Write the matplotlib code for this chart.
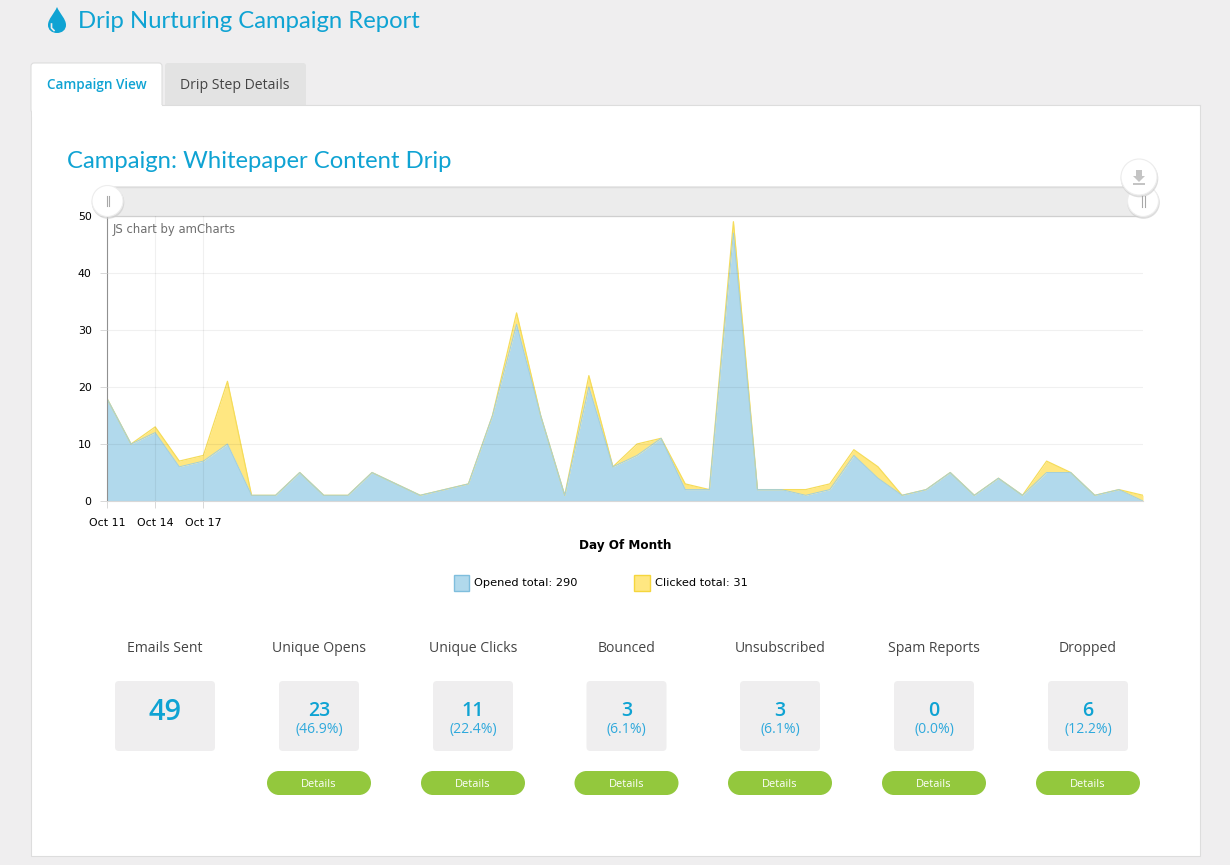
import numpy as np
import matplotlib
matplotlib.use("Agg")
import matplotlib.pyplot as plt
from matplotlib.patches import FancyBboxPatch, Rectangle, Circle, PathPatch
from matplotlib.path import Path

opened = [18, 10, 12, 6, 7, 10, 1, 1, 5, 1, 1, 5, 3, 1, 2, 3, 15, 31, 15, 1, 20, 6, 8, 11,
          2, 2, 47, 2, 2, 1, 2, 8, 4, 1, 2, 5, 1, 4, 1, 5, 5, 1, 2, 0]
clicked = [0, 0, 1, 1, 1, 11, 0, 0, 0, 0, 0, 0, 0, 0, 0, 0, 0, 2, 0, 0, 2, 0, 2, 0,
           1, 0, 2, 0, 0, 1, 1, 1, 2, 0, 0, 0, 0, 0, 0, 2, 0, 0, 0, 1]
tick_index = [0, 2, 4]
tick_labels = ["Oct 11", "Oct 14", "Oct 17"]
y_ticks = [0, 10, 20, 30, 40, 50]
stat_titles = ["Emails Sent", "Unique Opens", "Unique Clicks", "Bounced", "Unsubscribed", "Spam Reports", "Dropped"]
stat_values = ["49", "23", "11", "3", "3", "0", "6"]
stat_pcts = [None, "(46.9%)", "(22.4%)", "(6.1%)", "(6.1%)", "(0.0%)", "(12.2%)"]
stat_centers = [165, 319, 473, 626.5, 780, 934, 1088]

W, H = 1230, 865
BLUE = "#0FA3D3"
PAGE = "#EFEEEF"
fig = plt.figure(figsize=(W / 100, H / 100), dpi=100, facecolor=PAGE)


def px_axes(z):
    a = fig.add_axes([0, 0, 1, 1], zorder=z)
    a.set_xlim(0, W)
    a.set_ylim(H, 0)
    a.axis("off")
    a.patch.set_alpha(0)
    return a


bg = px_axes(0)
top = px_axes(2)
OS = "Open Sans"


def fs(px):
    return px * 0.72


# page chrome
bg.add_patch(Rectangle((31, 104.5), 1169, 751, fc="white", ec="#DDDDDD", lw=0.8))
bg.add_patch(FancyBboxPatch((165, 63), 141, 50, boxstyle="round,pad=0,rounding_size=3", fc="#E3E3E3", ec="none"))
bg.add_patch(FancyBboxPatch((31, 63), 131, 50, boxstyle="round,pad=0,rounding_size=3", fc="white", ec="#DDDDDD", lw=0.8))
bg.add_patch(Rectangle((32, 105), 1167, 12, fc="white", ec="none", zorder=3))
bg.plot([162, 1200], [104.5, 104.5], color="#DDDDDD", lw=0.8, zorder=3)
bg.text(96.5, 85.5, "Campaign View", color=BLUE, fontsize=fs(13.5), family=OS, weight="semibold", ha="center", va="center")
bg.text(235, 85.5, "Drip Step Details", color="#444444", fontsize=fs(14), family=OS, ha="center", va="center")
bg.text(78, 22, "Drip Nurturing Campaign Report", color=BLUE, fontsize=fs(23.9), family="Lato", va="center")
bg.text(67, 161, "Campaign: Whitepaper Content Drip", color=BLUE, fontsize=fs(23.9), family="Lato", va="center")

# drop icon
drop = Path([(57, 7), (54, 14), (48, 19), (48, 25), (48, 30), (52, 33), (57, 33), (62, 33), (66, 30), (66, 25),
             (66, 19), (60, 14), (57, 7)],
            [Path.MOVETO] + [Path.CURVE4] * 12)
bg.add_patch(PathPatch(drop, fc=BLUE, ec="none"))
bg.plot([51.5, 51.5, 54], [24, 28, 30.5], color=PAGE, lw=1.2)

# slider
bg.add_patch(Rectangle((107, 186), 1036, 30, fc="#ECECEC", ec="none"))
bg.plot([107, 1143], [186.5, 186.5], color="#DCDCDC", lw=1)
bg.plot([107, 1143], [216, 216], color="#DCDCDC", lw=1)

# chart
ax = fig.add_axes([107 / W, 1 - 501 / H, 1036 / W, 285 / H], zorder=1)
ax.patch.set_alpha(0)
x = np.arange(len(opened))
o = np.array(opened)
c = o + np.array(clicked)
ax.fill_between(x, 0, o, color="#B1D9EC", lw=0, zorder=2)
ax.fill_between(x, o, c, color="#FFE781", lw=0, zorder=2)
ax.plot(x, c, color="#F5DC5A", lw=0.9, zorder=2.2)
ax.plot(x, o, color="#A3CFDA", lw=0.7, zorder=2.2)
ax.set_xlim(0, len(opened) - 1)
ax.set_ylim(0, 50)
ax.set_yticks(y_ticks)
ax.set_xticks(tick_index)
ax.set_xticklabels(tick_labels)
ax.tick_params(axis="both", labelsize=fs(11), labelcolor="#000000", length=5, width=0.7, color="#D8D8D8")
ax.tick_params(axis="x", pad=7)
ax.tick_params(axis="y", pad=6)
ax.set_axisbelow(False)
ax.grid(True, color="black", alpha=0.06, lw=0.8)
for s in ["top", "right"]:
    ax.spines[s].set_visible(False)
ax.spines["left"].set_color("#9A9A9A")
ax.spines["left"].set_linewidth(0.8)
ax.spines["bottom"].set_color("#D8D8D8")

top.text(113, 229, "JS chart by amCharts", color="#6F6F6F", fontsize=fs(11.6), va="center")
top.text(625.5, 545, "Day Of Month", color="black", fontsize=fs(12), weight="bold", ha="center", va="center")

# legend
for x0, fc, ec, label in [(453.5, "#B1D9EC", "#7FBEDD", "Opened total: 290"), (634, "#FFE781", "#F5D63D", "Clicked total: 31")]:
    top.add_patch(Rectangle((x0, 574.5), 15.5, 16, fc=fc, ec=ec, lw=1))
    top.text(x0 + 21, 583.5, label, color="black", fontsize=fs(11.4), va="center")


# slider handles
def handle(cx, cy, r):
    top.add_patch(Circle((cx + 0.5, cy + 1.5), r + 0.8, fc="#CFCFCF", ec="none", alpha=0.7))
    top.add_patch(Circle((cx, cy), r, fc="white", ec="#EDEDED", lw=0.8))


handle(107.5, 201, 15.5)
top.plot([106.5, 106.5], [196, 206], color="#A8A8A8", lw=0.8)
top.plot([109, 109], [196, 206], color="#A8A8A8", lw=0.8)
handle(1143, 201, 15.5)
top.plot([1142, 1142], [196, 207], color="#A8A8A8", lw=0.8)
top.plot([1145, 1145], [196, 207], color="#A8A8A8", lw=0.8)
handle(1139, 177, 18)
arrow = Path([(1136, 170), (1142, 170), (1142, 176), (1145, 176), (1139, 182), (1133, 176), (1136, 176), (1136, 170)],
             [Path.MOVETO] + [Path.LINETO] * 6 + [Path.CLOSEPOLY])
top.add_patch(PathPatch(arrow, fc="#C4C4C4", ec="none"))
top.add_patch(Rectangle((1133, 183), 12, 1.8, fc="#C4C4C4", ec="none"))

# stat cards
GREEN = "#93C83D"
for cx, t, v, p in zip(stat_centers, stat_titles, stat_values, stat_pcts):
    bw = 100 if p is None else 80
    bg.text(cx, 648, t, color="#444444", fontsize=fs(14), family=OS, ha="center", va="center")
    bg.add_patch(FancyBboxPatch((cx - bw / 2, 681), bw, 70, boxstyle="round,pad=0,rounding_size=4", fc=PAGE, ec="none"))
    if p is None:
        bg.text(cx, 712, v, color=BLUE, fontsize=fs(29), family=OS, weight="semibold", ha="center", va="center")
    else:
        bg.text(cx, 711, v, color=BLUE, fontsize=fs(19.5), family=OS, weight="semibold", ha="center", va="center")
        bg.text(cx, 729, p, color="#2FA9DC", fontsize=fs(14), family=OS, ha="center", va="center")
        bg.add_patch(Rectangle((cx - 40, 771), 80, 24, fc=GREEN, ec="none"))
        bg.add_patch(Circle((cx - 40, 783), 12, fc=GREEN, ec="none"))
        bg.add_patch(Circle((cx + 40, 783), 12, fc=GREEN, ec="none"))
        bg.text(cx, 784.5, "Details", color="white", fontsize=fs(11), family=OS, ha="center", va="center")

fig.savefig("out.png", dpi=100, facecolor=fig.get_facecolor())
